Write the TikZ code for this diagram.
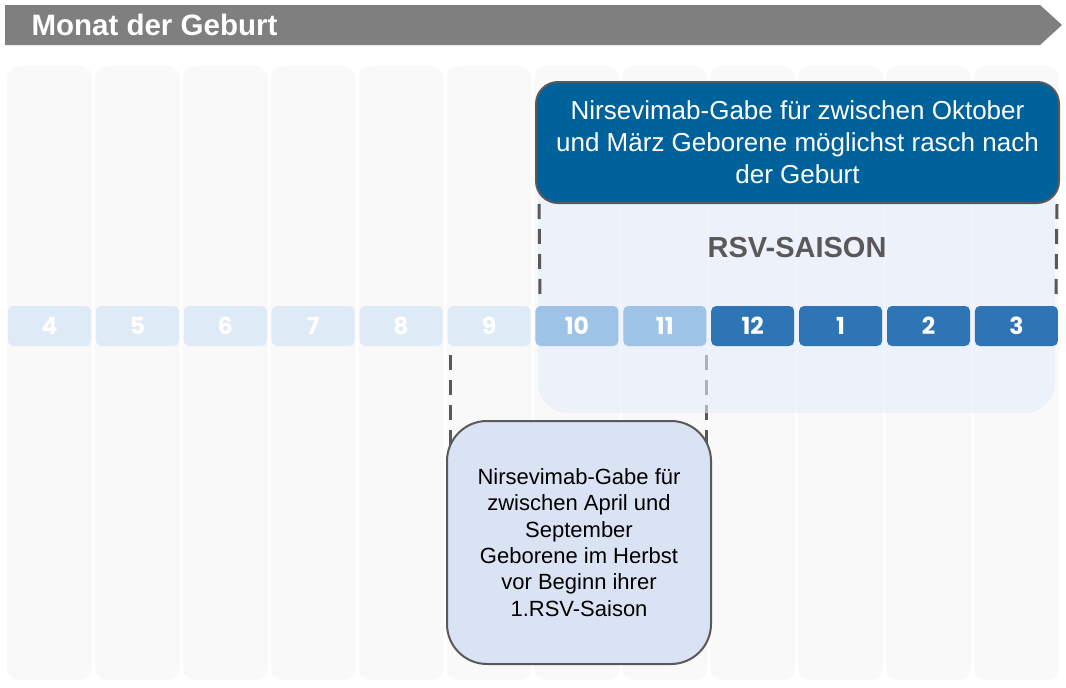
\documentclass[tikz,border=0pt]{standalone}
\usepackage{fontspec}
\setmainfont{Liberation Sans}
\newfontfamily\numfont{Poppins}
\usetikzlibrary{positioning}
\definecolor{headgray}{HTML}{7F7F7F}
\definecolor{colgray}{HTML}{F9F9F9}
\definecolor{palemonth}{HTML}{DEEAF6}
\definecolor{midmonth}{HTML}{9DC3E6}
\definecolor{darkmonth}{HTML}{2E75B6}
\definecolor{seasonblue}{HTML}{E5EDFA}
\definecolor{topblue}{HTML}{00629B}
\definecolor{lowblue}{HTML}{DAE3F3}
\definecolor{linegray}{HTML}{595959}
\tikzstyle{col}=[fill=colgray,rounded corners=12pt,minimum width=85pt,
  minimum height=614pt,inner sep=0pt]
\tikzstyle{month}=[fill=palemonth,rounded corners=5pt,minimum width=83pt,
  minimum height=40pt,inner sep=0pt,text=white,
  font=\numfont\bfseries\fontsize{23.5}{23.5}\selectfont]
\tikzstyle{month2}=[month,fill=midmonth]
\tikzstyle{month3}=[month,fill=darkmonth]
\tikzstyle{dashline}=[linegray,line width=3pt,dash pattern=on 15pt off 10pt]
\tikzstyle{infobox}=[draw=linegray,line width=2pt,align=center,inner sep=0pt]

\begin{document}
\begin{tikzpicture}[x=1pt, y=-1pt, on grid, node distance=87.9pt]
  \useasboundingbox (0,0) rectangle (1066,688);

  % header arrow
  \fill[headgray] (5,5) -- (1040,5) -- (1062,25) -- (1040,45) -- (5,45) -- cycle;
  \node[anchor=west, text=white, font=\bfseries\fontsize{29.5}{29.5}\selectfont]
    (head) at (28,25) {Monat der Geburt};

  % month columns
  \node[col] (c4) at (49.5,373) {};
  \node[col, right=of c4] (c5) {};
  \node[col, right=of c5] (c6) {};
  \node[col, right=of c6] (c7) {};
  \node[col, right=of c7] (c8) {};
  \node[col, right=of c8] (c9) {};
  \node[col, right=of c9] (c10) {};
  \node[col, right=of c10] (c11) {};
  \node[col, right=of c11] (c12) {};
  \node[col, right=of c12] (c1) {};
  \node[col, right=of c1] (c2) {};
  \node[col, right=of c2] (c3) {};

  % lower dashed guides
  \coordinate (la) at (450,355);
  \coordinate (lb) at (450,450);
  \coordinate (ra) at (706,355);
  \coordinate (rb) at (706,450);
  \draw[dashline] (la) -- (lb);
  \draw[dashline] (ra) -- (rb);

  % season
  \node[fill=seasonblue, fill opacity=.6, rounded corners=30pt,
    minimum width=517pt, minimum height=330pt] (season) at (796.5,248) {};
  \node[text=linegray, font=\bfseries\fontsize{29}{29}\selectfont]
    (saison) at (797,248) {RSV-SAISON};

  % months
  \node[month] (m4) at (49.5,326) {4};
  \node[month, right=of m4] (m5) {5};
  \node[month, right=of m5] (m6) {6};
  \node[month, right=of m6] (m7) {7};
  \node[month, right=of m7] (m8) {8};
  \node[month, right=of m8] (m9) {9};
  \node[month2, right=of m9] (m10) {10};
  \node[month2, right=of m10] (m11) {11};
  \node[month3, right=of m11] (m12) {12};
  \node[month3, right=of m12] (m1) {1};
  \node[month3, right=of m1] (m2) {2};
  \node[month3, right=of m2] (m3) {3};

  % boxes
  \node[infobox, fill=lowblue, minimum width=264pt, minimum height=243pt,
    rounded corners=40pt, font=\fontsize{22}{26.3}\selectfont] (low)
    at (579,542.5) {Nirsevimab-Gabe für\\zwischen April und\\September\\
    Geborene im Herbst\\vor Beginn ihrer\\1.RSV-Saison};
  \node[infobox, fill=topblue, text=white, minimum width=523pt,
    minimum height=121pt, rounded corners=22pt,
    font=\fontsize{26}{32}\selectfont] (top) at (797.5,142.5)
    {\raisebox{2pt}{\parbox{500pt}{\centering Nirsevimab-Gabe für zwischen Oktober\\
    und März Geborene möglichst rasch nach\\der Geburt}}};

  % upper dashed guides
  \coordinate (ua) at (540,300);
  \coordinate (ub) at (1056,300);
  \draw[dashline] ([xshift=4pt]top.south west) -- (ua);
  \draw[dashline] ([xshift=-3pt]top.south east) -- (ub);
\end{tikzpicture}
\end{document}
